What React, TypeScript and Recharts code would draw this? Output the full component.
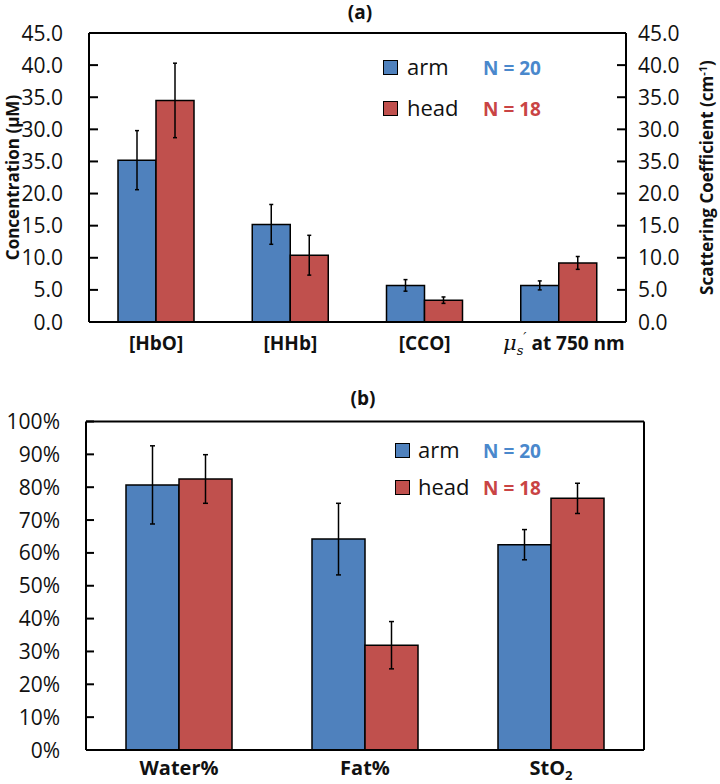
import React from "react";
import { BarChart, Bar, XAxis, YAxis, ErrorBar, ReferenceLine, Legend } from "recharts";

const FONT = '"Open Sans", "DejaVu Sans", sans-serif';
const BLUE = "#4f81bd";
const RED = "#c0504d";

// panel (a): concentrations + scattering
const catsA = ["[HbO]", "[HHb]", "[CCO]", "mus750"];
const armA = [25.2, 15.2, 5.7, 5.7];
const armErrA = [4.6, 3.1, 0.9, 0.7];
const headA = [34.5, 10.4, 3.4, 9.2];
const headErrA = [5.8, 3.1, 0.5, 1.0];
const ticksA = [0, 5, 10, 15, 20, 25, 30, 35, 40, 45];
// labels as printed in the source figure (the 25 tick reads "35.0")
const tickLabelsA = ["0.0", "5.0", "10.0", "15.0", "20.0", "35.0", "30.0", "35.0", "40.0", "45.0"];

// panel (b): percentages
const catsB = ["Water%", "Fat%", "StO2"];
const armB = [80.7, 64.2, 62.5];
const armErrB = [11.9, 10.9, 4.6];
const headB = [82.5, 31.9, 76.6];
const headErrB = [7.4, 7.2, 4.6];
const ticksB = [0, 10, 20, 30, 40, 50, 60, 70, 80, 90, 100];

const seriesNames = ["arm", "head"];
const seriesColors = [BLUE, RED];
const seriesN = ["N = 20", "N = 18"];
const nColors = ["#4a88cc", "#c94444"];

const dataA = catsA.map((name, i) => ({
  name,
  arm: armA[i],
  armErr: armErrA[i],
  head: headA[i],
  headErr: headErrA[i],
}));

const dataB = catsB.map((name, i) => ({
  name,
  arm: armB[i],
  armErr: armErrB[i],
  head: headB[i],
  headErr: headErrB[i],
}));

const axisStroke = { stroke: "#000", strokeWidth: 2 };

// left y tick with an inward tick mark
const LeftTick = (props: any) => {
  const { x, y, payload, margin, len, label } = props;
  return (
    <g>
      <line x1={x + margin} x2={x + margin + len} y1={y} y2={y} stroke="#000" strokeWidth={2} />
      <text x={x} y={y} dy="0.36em" textAnchor="end" fontFamily={FONT} fontSize={21} fill="#111">
        {label(payload.value)}
      </text>
    </g>
  );
};

const RightTick = (props: any) => {
  const { x, y, payload, margin, len, label } = props;
  return (
    <g>
      <line x1={x - margin} x2={x - margin - len} y1={y} y2={y} stroke="#000" strokeWidth={2} />
      <text x={x} y={y} dy="0.36em" textAnchor="start" fontFamily={FONT} fontSize={21} fill="#111">
        {label(payload.value)}
      </text>
    </g>
  );
};

const XTickA = (props: any) => {
  const { x, y, payload } = props;
  if (payload.value === "mus750") {
    return (
      <text x={x + 5} y={y + 28} textAnchor="middle" fontFamily={FONT} fontSize={19} fontWeight={700} fill="#111">
        <tspan fontFamily="DejaVu Serif" fontStyle="italic" fontWeight={400} fontSize={21}>μ</tspan>
        <tspan fontFamily="DejaVu Serif" fontStyle="italic" fontWeight={400} fontSize={13} dy={5}>s</tspan>
        <tspan fontFamily="DejaVu Serif" fontStyle="italic" fontWeight={400} fontSize={14} dy={-12}>′</tspan>
        <tspan dy={7}> at 750 nm</tspan>
      </text>
    );
  }
  return (
    <text x={x} y={y + 28} textAnchor="middle" fontFamily={FONT} fontSize={19} fontWeight={700} fill="#111">
      {payload.value}
    </text>
  );
};

const XTickB = (props: any) => {
  const { x, y, payload } = props;
  if (payload.value === "StO2") {
    return (
      <text x={x} y={y + 25} textAnchor="middle" fontFamily={FONT} fontSize={20} fontWeight={700} fill="#111">
        StO<tspan fontSize={13} dy={5}>2</tspan>
      </text>
    );
  }
  return (
    <text x={x} y={y + 25} textAnchor="middle" fontFamily={FONT} fontSize={20} fontWeight={700} fill="#111">
      {payload.value}
    </text>
  );
};

const makeLegend = (sqX: number, textX: number, nX: number, rows: number[]) => () => (
  <div style={{ position: "relative", fontFamily: FONT }}>
    {seriesNames.map((s, i) => (
      <React.Fragment key={s}>
        <div
          style={{
            position: "absolute",
            left: sqX,
            top: rows[i] - 8,
            width: 13,
            height: 13,
            background: seriesColors[i],
            border: "1.5px solid #000",
          }}
        />
        <div style={{ position: "absolute", left: textX, top: rows[i] - 17, fontSize: 22, lineHeight: "30px", color: "#111", whiteSpace: "nowrap" }}>
          {s}
        </div>
        <div
          style={{
            position: "absolute",
            left: nX,
            top: rows[i] - 14,
            fontSize: 19,
            fontWeight: 700,
            lineHeight: "28px",
            color: nColors[i],
            whiteSpace: "nowrap",
          }}
        >
          {seriesN[i]}
        </div>
      </React.Fragment>
    ))}
  </div>
);

const legendWrap = { left: 0, top: 0, width: 720, height: 0 };

export default function App() {
  return (
    <div style={{ position: "absolute", left: 0, top: 0, width: 720, height: 784, background: "#fff" }}>
      <div style={{ position: "absolute", left: 0, top: 0 }}>
        <BarChart width={720} height={360} data={dataA} margin={{ top: 33, right: 0, bottom: 0, left: 0 }} barGap={0}>
          <XAxis
            dataKey="name"
            height={38}
            axisLine={axisStroke}
            tickLine={false}
            tickSize={0}
            tickMargin={0}
            interval={0}
            tick={(p: any) => <XTickA {...p} />}
          />
          <YAxis
            yAxisId="left"
            width={89}
            domain={[0, 45]}
            ticks={ticksA}
            interval={0}
            axisLine={axisStroke}
            tickLine={false}
            tickSize={0}
            tickMargin={26}
            tick={(p: any) => (
              <LeftTick {...p} margin={26} len={9} label={(v: number) => tickLabelsA[ticksA.indexOf(v)]} />
            )}
          />
          <YAxis
            yAxisId="right"
            orientation="right"
            width={94}
            domain={[0, 45]}
            ticks={ticksA}
            interval={0}
            axisLine={axisStroke}
            tickLine={false}
            tickSize={0}
            tickMargin={12}
            tick={(p: any) => (
              <RightTick {...p} margin={12} len={9} label={(v: number) => tickLabelsA[ticksA.indexOf(v)]} />
            )}
          />
          <ReferenceLine yAxisId="left" y={45} stroke="#000" strokeWidth={2} />
          <Legend
            layout="vertical"
            align="center"
            verticalAlign="middle"
            wrapperStyle={legendWrap}
            content={makeLegend(383, 407, 483, [68, 109])}
          />
          <Bar yAxisId="left" dataKey="arm" fill={BLUE} stroke="#000" strokeWidth={1.5} barSize={38} isAnimationActive={false}>
            <ErrorBar dataKey="armErr" width={2} stroke="#000" strokeWidth={1.5} isAnimationActive={false} />
          </Bar>
          {/* same 0-45 scale on both sides; binding this series keeps the right axis drawn */}
          <Bar yAxisId="right" dataKey="head" fill={RED} stroke="#000" strokeWidth={1.5} barSize={38} isAnimationActive={false}>
            <ErrorBar dataKey="headErr" width={2} stroke="#000" strokeWidth={1.5} isAnimationActive={false} />
          </Bar>
        </BarChart>
      </div>

      <div style={{ position: "absolute", left: 0, top: 380 }}>
        <BarChart width={720} height={404} data={dataB} margin={{ top: 41.5, right: 0, bottom: 0, left: 0 }} barGap={0}>
          <XAxis
            dataKey="name"
            height={34}
            axisLine={axisStroke}
            tickLine={false}
            tickSize={0}
            tickMargin={0}
            interval={0}
            tick={(p: any) => <XTickB {...p} />}
          />
          <YAxis
            yAxisId="left"
            width={86}
            domain={[0, 100]}
            ticks={ticksB}
            interval={0}
            axisLine={axisStroke}
            tickLine={false}
            tickSize={0}
            tickMargin={26}
            tick={(p: any) => <LeftTick {...p} margin={26} len={8} label={(v: number) => `${v}%`} />}
          />
          <YAxis yAxisId="right" orientation="right" width={76} domain={[0, 100]} axisLine={axisStroke} tick={false} tickLine={false} />
          <ReferenceLine yAxisId="left" y={100} stroke="#000" strokeWidth={2} />
          <Legend
            layout="vertical"
            align="center"
            verticalAlign="middle"
            wrapperStyle={legendWrap}
            content={makeLegend(395, 418, 483, [71, 108])}
          />
          <Bar yAxisId="left" dataKey="arm" fill={BLUE} stroke="#000" strokeWidth={1.5} barSize={53} isAnimationActive={false}>
            <ErrorBar dataKey="armErr" width={2.5} stroke="#000" strokeWidth={1.5} isAnimationActive={false} />
          </Bar>
          <Bar yAxisId="left" dataKey="head" fill={RED} stroke="#000" strokeWidth={1.5} barSize={53} isAnimationActive={false}>
            <ErrorBar dataKey="headErr" width={2.5} stroke="#000" strokeWidth={1.5} isAnimationActive={false} />
          </Bar>
        </BarChart>
      </div>

      <svg width={720} height={784} style={{ position: "absolute", left: 0, top: 0, pointerEvents: "none" }}>
        <text x={360} y={12} dy="0.36em" textAnchor="middle" fontFamily={FONT} fontSize={19} fontWeight={700} fill="#111">
          (a)
        </text>
        <text x={363} y={398} dy="0.36em" textAnchor="middle" fontFamily={FONT} fontSize={19} fontWeight={700} fill="#111">
          (b)
        </text>
        <text
          transform="translate(13,177.5) rotate(-90)"
          textAnchor="middle"
          dy="0.36em"
          fontFamily={FONT}
          fontSize={17}
          fontWeight={700}
          fill="#111"
        >
          Concentration (μM)
        </text>
        <text
          transform="translate(707,177.5) rotate(-90)"
          textAnchor="middle"
          dy="0.36em"
          fontFamily={FONT}
          fontSize={17}
          fontWeight={700}
          fill="#111"
        >
          Scattering Coefficient (cm<tspan fontSize={11} dy={-6}>-1</tspan>
          <tspan dy={6}>)</tspan>
        </text>
      </svg>
    </div>
  );
}
